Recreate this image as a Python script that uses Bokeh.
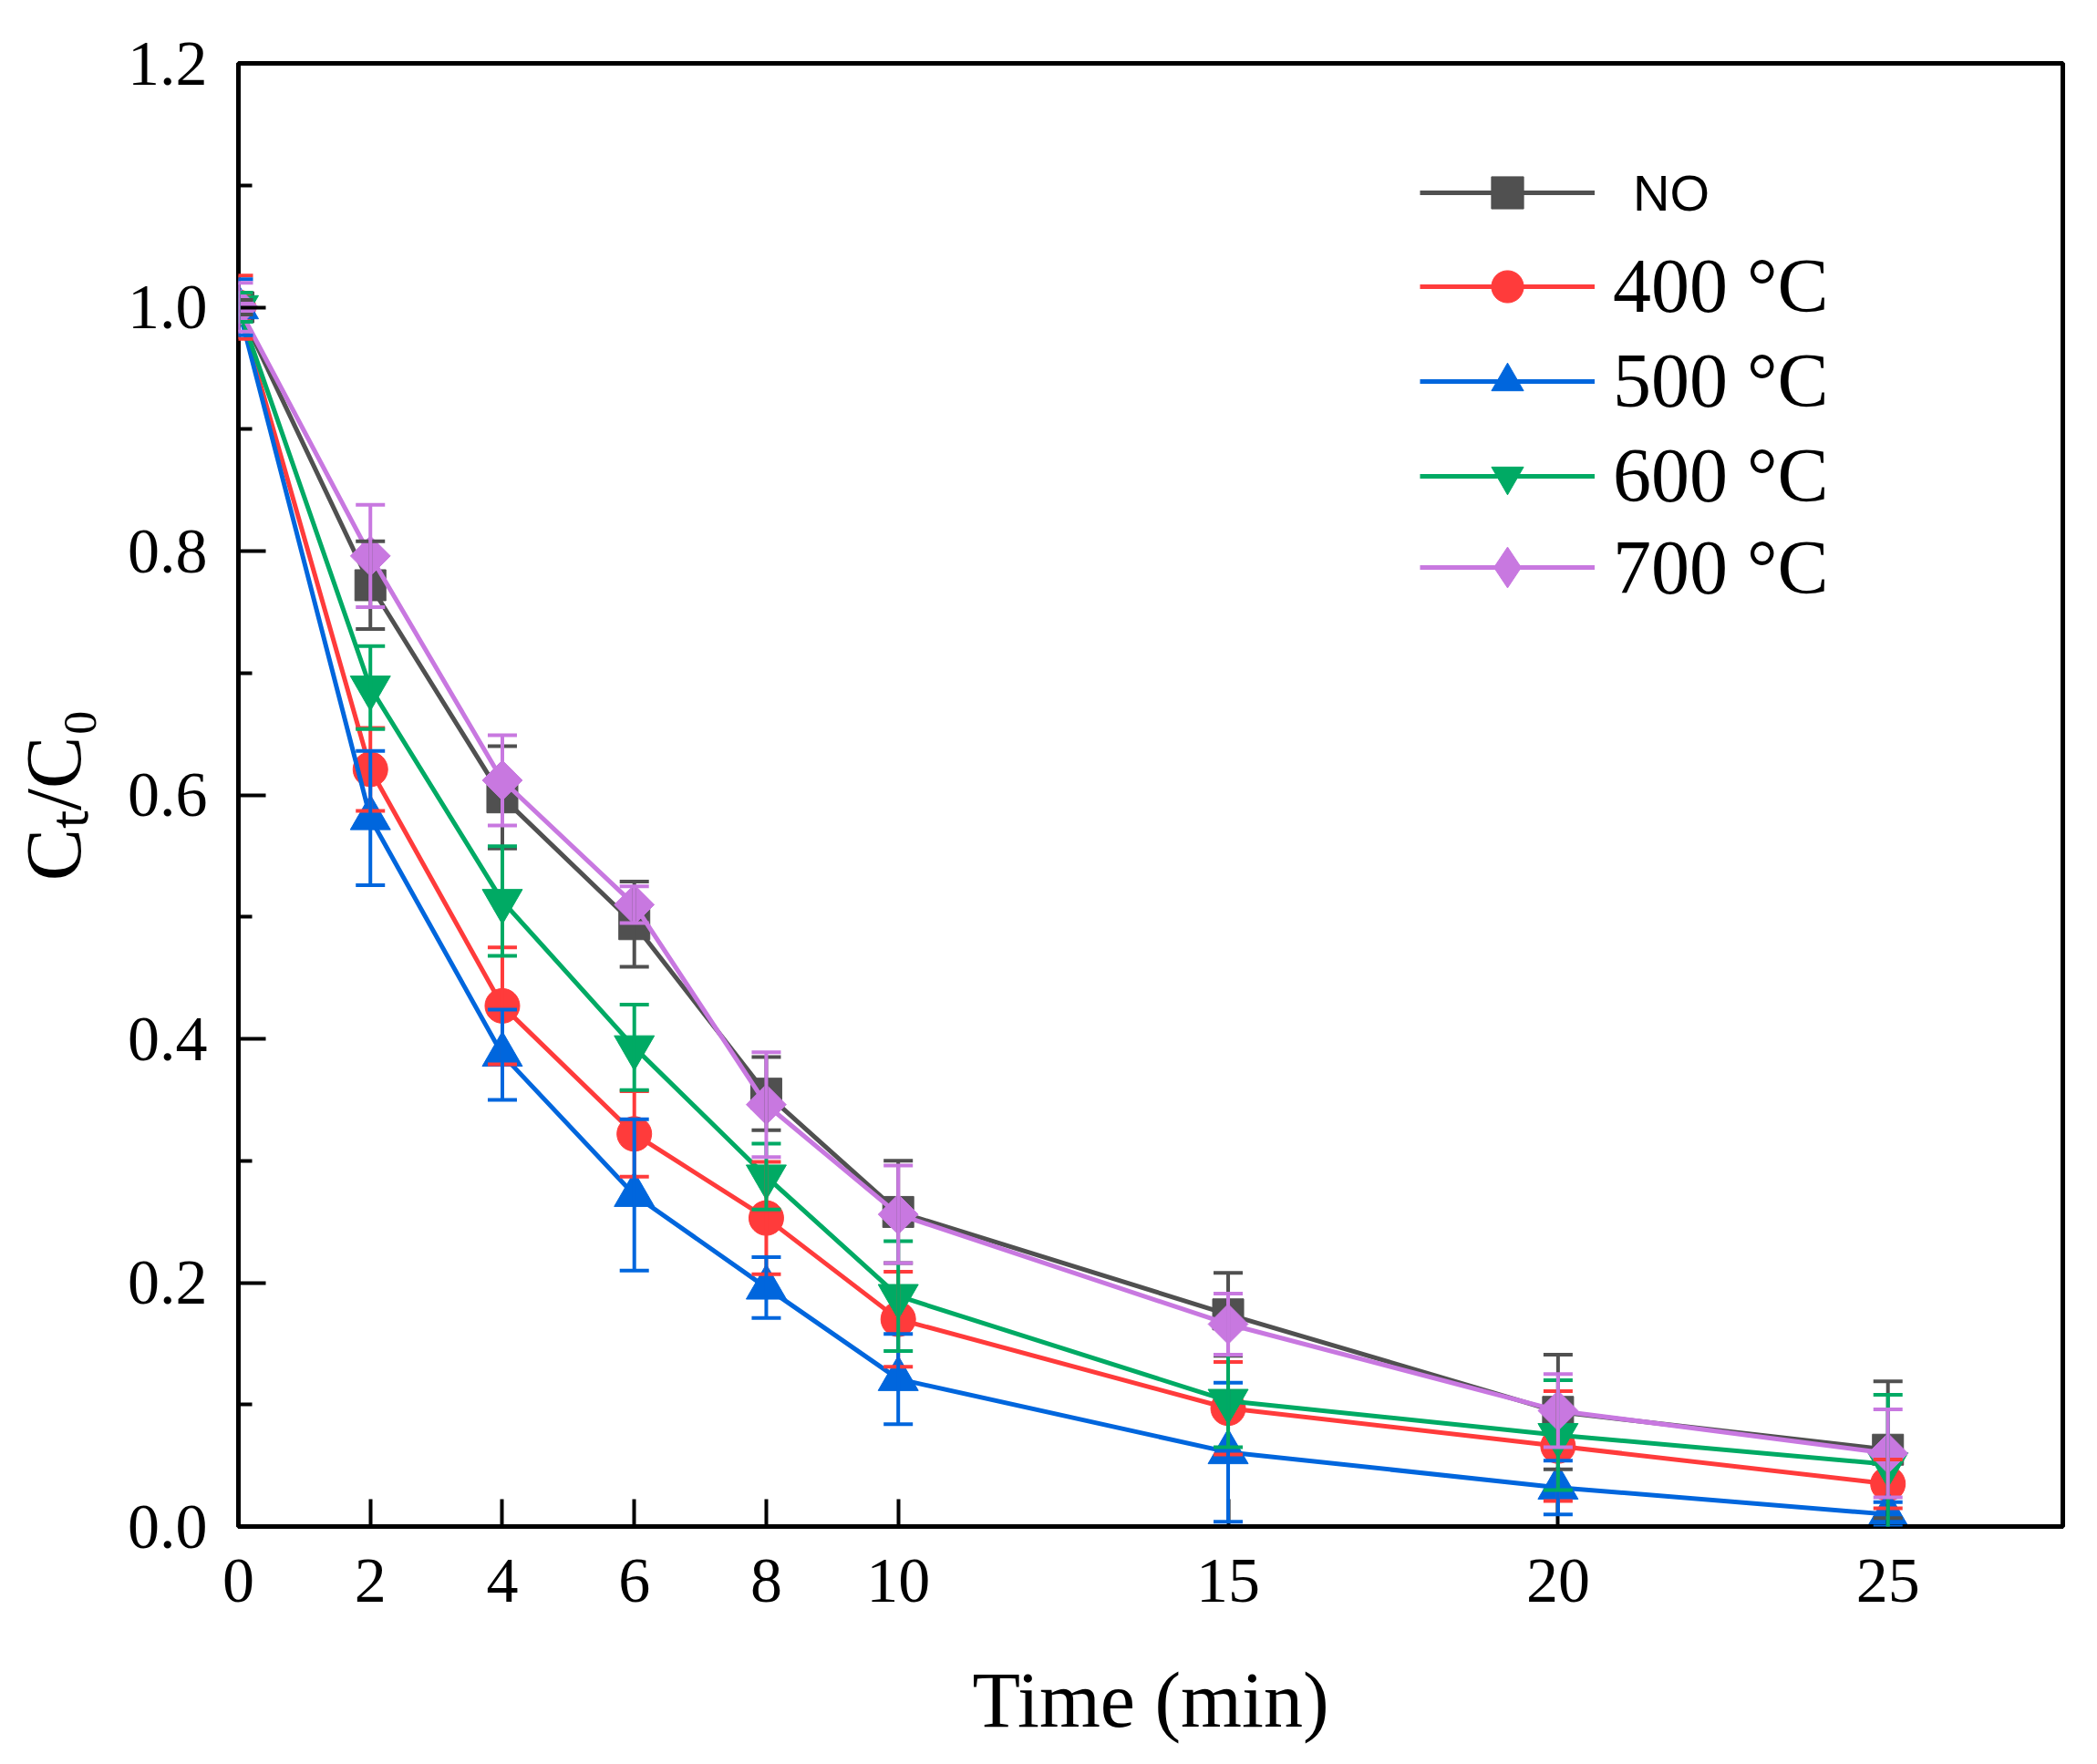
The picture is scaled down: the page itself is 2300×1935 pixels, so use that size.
import math
from bokeh.plotting import figure
from bokeh.models import (Range1d, FixedTicker, Whisker, TeeHead, ColumnDataSource,
                          Legend, LegendItem, NumeralTickFormatter)
from bokeh.embed import file_html
from bokeh.resources import INLINE

# ---------------- data ----------------
time = [0, 2, 4, 6, 8, 10, 15, 20, 25]
x_ticks = [0, 2, 4, 6, 8, 10, 15, 20, 25]
y_ticks = [0.0, 0.2, 0.4, 0.6, 0.8, 1.0, 1.2]
y_minor = [0.1, 0.3, 0.5, 0.7, 0.9, 1.1]

labels = ["NO", "400 °C", "500 °C", "600 °C", "700 °C"]

ct_no = [1.0, 0.772, 0.598, 0.494, 0.355, 0.258, 0.174, 0.094, 0.063]
err_no = [0.006, 0.036, 0.042, 0.035, 0.030, 0.042, 0.034, 0.047, 0.056]

ct_400 = [1.0, 0.621, 0.427, 0.322, 0.253, 0.170, 0.097, 0.066, 0.035]
err_400 = [0.026, 0.034, 0.048, 0.035, 0.046, 0.039, 0.038, 0.045, 0.020]

ct_500 = [1.0, 0.581, 0.387, 0.272, 0.196, 0.121, 0.061, 0.032, 0.010]
err_500 = [0.023, 0.055, 0.037, 0.062, 0.025, 0.037, 0.057, 0.022, 0.010]

ct_600 = [1.0, 0.688, 0.513, 0.393, 0.287, 0.189, 0.103, 0.075, 0.051]
err_600 = [0.012, 0.034, 0.045, 0.035, 0.027, 0.045, 0.038, 0.045, 0.057]

ct_700 = [1.0, 0.796, 0.612, 0.510, 0.346, 0.256, 0.166, 0.095, 0.060]
err_700 = [0.020, 0.042, 0.037, 0.015, 0.043, 0.040, 0.025, 0.030, 0.036]

values = [ct_no, ct_400, ct_500, ct_600, ct_700]
errors = [err_no, err_400, err_500, err_600, err_700]
colors = ["#505050", "#FF3B3B", "#0066DD", "#00AA64", "#C878E0"]
markers = ["square", "circle", "triangle", "inverted_triangle", "square"]
angles = [0, 0, 0, 0, math.pi / 4]
msizes = [34, 38, 44, 44, 31]

# ---------------- figure ----------------
p = figure(width=2284, height=1915, output_backend="svg", toolbar_location=None,
           x_range=Range1d(0, 27.65), y_range=Range1d(0, 1.2),
           min_border_left=261, min_border_right=22, min_border_top=69,
           min_border_bottom=238)
p.grid.visible = False
p.background_fill_color = "white"
p.border_fill_color = "white"
p.outline_line_color = "black"
p.outline_line_width = 5

serif = "Liberation Serif"

for ax in (p.xaxis[0], p.yaxis[0]):
    ax.axis_line_width = 5
    ax.axis_line_color = "black"
    ax.major_tick_in = 30
    ax.major_tick_out = 0
    ax.major_tick_line_width = 4
    ax.major_tick_line_color = "black"
    ax.major_label_text_font = serif
    ax.major_label_text_font_size = "70px"
    ax.major_label_text_color = "black"
    ax.axis_label_text_font = serif
    ax.axis_label_text_font_style = "normal"
    ax.axis_label_text_color = "black"
    ax.axis_label_text_font_size = "86px"

p.xaxis.ticker = FixedTicker(ticks=x_ticks, minor_ticks=[])
p.xaxis.minor_tick_line_color = None
p.xaxis.major_label_standoff = 36
p.xaxis.axis_label = "Time (min)"
p.xaxis.axis_label_standoff = 57

p.yaxis.ticker = FixedTicker(ticks=y_ticks, minor_ticks=y_minor)
p.yaxis.formatter = NumeralTickFormatter(format="0.0")
p.yaxis.minor_tick_in = 15
p.yaxis.minor_tick_out = 0
p.yaxis.minor_tick_line_width = 4
p.yaxis.minor_tick_line_color = "black"
p.yaxis.major_label_standoff = 34
p.yaxis.axis_label = "C\u209c/C\u2080"
p.yaxis.axis_label_standoff = 30

renderers = []
sources = []
for vals, errs, col, mk, ang, ms in zip(values, errors, colors, markers, angles, msizes):
    src = ColumnDataSource(dict(
        t=time, v=vals,
        up=[a + b for a, b in zip(vals, errs)],
        lo=[a - b for a, b in zip(vals, errs)]))
    ln = p.line("t", "v", source=src, line_color=col, line_width=5)
    sc = p.scatter("t", "v", source=src, marker=mk, size=ms, angle=ang,
                   fill_color=col, line_color=col, line_width=1)
    wh = Whisker(base="t", upper="up", lower="lo", source=src,
                 line_color=col, line_width=4, level="annotation",
                 upper_head=TeeHead(size=32, line_color=col, line_width=4),
                 lower_head=TeeHead(size=32, line_color=col, line_width=4))
    p.add_layout(wh)
    renderers.append([ln, sc])
    sources.append(src)

# legend key for the 700 °C series: a diamond (hidden in the plot itself)
key700 = p.scatter("t", "v", source=sources[4], marker="diamond",
                   fill_color=colors[4], line_color=colors[4], line_width=1)
key700.visible = False


def make_legend(items, font, fsize, standoff, loc, gh=88, spacing=7):
    lg = Legend(items=items, location=loc, orientation="vertical",
                glyph_width=192, glyph_height=gh, label_height=40,
                label_standoff=standoff, spacing=spacing, padding=0, margin=0,
                border_line_color=None, background_fill_alpha=0,
                inactive_fill_alpha=0, click_policy="none",
                label_text_font=font, label_text_font_size=fsize,
                label_text_color="black")
    return lg


leg_no = make_legend([LegendItem(label=labels[0], renderers=renderers[0])],
                     "Liberation Sans", "56px", 42, (1296, 1419))
leg_t = make_legend([LegendItem(label=lab, renderers=r)
                     for lab, r in zip(labels[1:4], renderers[1:4])],
                    serif, "84px", 20, (1296, 1104))
leg_700 = make_legend([LegendItem(label=labels[4], renderers=[renderers[4][0], key700])],
                      serif, "84px", 20, (1296, 996), gh=112)
p.add_layout(leg_no)
p.add_layout(leg_t)
p.add_layout(leg_700)

open("out.html", "w").write(file_html(p, INLINE))
